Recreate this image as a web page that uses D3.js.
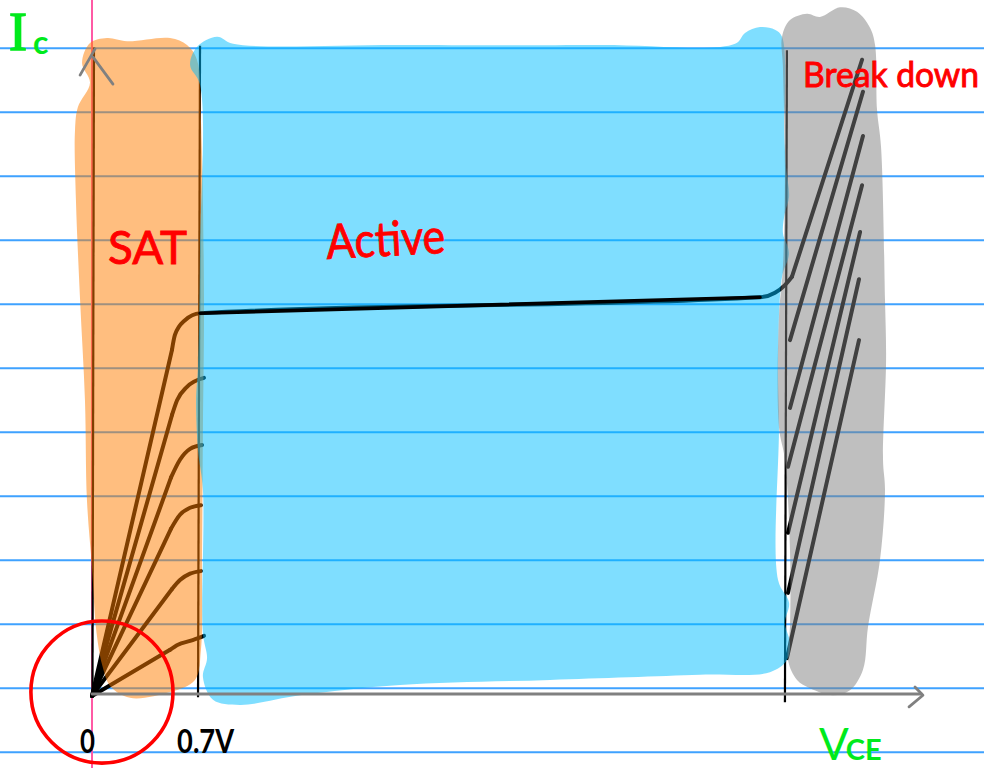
<!DOCTYPE html>
<html>
<head>
<meta charset="utf-8">
<script src="https://cdn.jsdelivr.net/npm/d3@7"></script>
<style>
  html, body { margin: 0; padding: 0; background: #fff; }
  svg { display: block; }
</style>
</head>
<body>
<div id="chart"></div>
<script>
// x = VCE in volts, y = Ic in notebook-line units
const ruleValues = [-0.91, 0.09, 1.09, 2.09, 3.09, 4.09, 5.09, 6.09, 7.09, 8.09, 9.09, 10.09];
const xTickValues = [0, 0.7];
const xTickLabels = ["0", "0.7V"];
const regionNames = ["SAT", "Active", "Break down"];

const satRegion = [
  [-0.065, 9.86], [-0.013, 10.17], [0.098, 10.25], [0.229, 10.20], [0.510, 10.25], [0.621, 10.14],
  [0.686, 9.91], [0.712, 8.97], [0.732, 6.16], [0.725, 4.13], [0.719, 2.09], [0.712, 0.69],
  [0.673, 0.22], [0.510, 0.03], [0.248, -0.06], [0.120, 0.12], [0.070, 0.42], [0.030, 0.95],
  [0, 1.98], [-0.033, 3.03], [-0.046, 4.59], [-0.078, 6.16], [-0.105, 7.72], [-0.111, 8.81],
  [-0.092, 9.17], [-0.013, 9.55]
];
const activeRegion = [
  [0.817, 10.27], [0.922, 10.16], [2.013, 10.14], [3.320, 10.14], [4.203, 10.16], [4.268, 10.33],
  [4.366, 10.42], [4.464, 10.38], [4.510, 10.27], [4.529, 9.28], [4.523, 8.97], [4.536, 8.23],
  [4.556, 7.77], [4.529, 7.52], [4.516, 7.20], [4.556, 6.89], [4.510, 6.52], [4.484, 5.22],
  [4.490, 4.17], [4.484, 1.78], [4.556, 1.42], [4.529, 1.11], [4.562, 0.80], [4.542, 0.53],
  [4.431, 0.34], [3.974, 0.30], [2.993, 0.22], [2.013, 0.14], [1.359, -0.02], [0.967, -0.17],
  [0.791, -0.09], [0.725, 0.27], [0.752, 0.56], [0.725, 0.95], [0.725, 3.19], [0.693, 3.81],
  [0.680, 4.59], [0.693, 5.11], [0.706, 6.94], [0.706, 9.52], [0.641, 9.83], [0.686, 10.11]
];
const breakdownRegion = [
  [4.510, 10.27], [4.562, 10.53], [4.673, 10.63], [4.758, 10.58], [4.889, 10.73], [5.000, 10.66],
  [5.085, 10.41], [5.118, 10.14], [5.131, 9.13], [5.157, 8.55], [5.183, 6.16], [5.190, 5.22],
  [5.170, 3.66], [5.183, 3.19], [5.150, 2.09], [5.072, 1.05], [5.039, 0.38], [4.954, 0.06],
  [4.843, -0.02], [4.693, 0.09], [4.608, 0.22], [4.549, 0.53], [4.562, 1.05], [4.562, 2.25],
  [4.529, 3.66], [4.490, 4.17], [4.490, 5.89], [4.516, 6.67], [4.529, 8.23], [4.516, 9.80]
];

// bend of each Ic curve, top one carries on to the start of breakdown
const curveKnees = [
  [[0.523, 5.38], [0.542, 5.61], [0.608, 5.84], [0.706, 5.95], [4.366, 6.20], [4.464, 6.27], [4.529, 6.39], [4.575, 6.52]],
  [[0.523, 4.36], [0.556, 4.59], [0.621, 4.80], [0.732, 4.94]],
  [[0.516, 3.38], [0.575, 3.66], [0.641, 3.83], [0.719, 3.89]],
  [[0.516, 2.58], [0.575, 2.80], [0.641, 2.91], [0.712, 2.95]],
  [[0.523, 1.64], [0.575, 1.78], [0.641, 1.88], [0.712, 1.92]],
  [[0.510, 0.69], [0.562, 0.77], [0.641, 0.83], [0.732, 0.91]]
];
const curveOrigin = [0, -0.03];
// the flat part was inked after the blue went on
const activeSegment = [[0.706, 5.95], [4.366, 6.20]];
const hatchLines = [
  [[4.575, 6.52], [5.033, 9.91]],
  [[4.562, 5.53], [5.039, 9.41]],
  [[4.562, 4.47], [5.039, 8.72]],
  [[4.549, 3.55], [5.033, 7.95]],
  [[4.549, 2.52], [5.020, 7.22]],
  [[4.549, 1.58], [5.013, 6.48]],
  [[4.542, 0.56], [5.013, 5.53]]
];
const boundaryLines = [
  [[0.013, 10.10], [0.003, 0]],
  [[0.706, 10.13], [0.693, -0.05]],
  [[4.542, 10.06], [4.529, -0.13]]
];
const grayStrokes = [
  [[0, 0], [5.42, 0]],
  [[5.379, 0.11], [5.431, -0.02], [5.340, -0.20]],
  [[-0.078, 9.67], [0.020, 10.08]],
  [[0.007, 9.95], [0.137, 9.53]]
];
const originCircle = { x: 0.065, y: 0.03, r: 1.11 };

const width = 984, height = 768;
const x = d3.scaleLinear().domain([0, 1]).range([92, 245]);
const y = d3.scaleLinear().domain([0, 1]).range([694, 630]);

const svg = d3.select("#chart").append("svg")
  .attr("width", width)
  .attr("height", height);

const line = d3.line().x(d => x(d[0])).y(d => y(d[1]));
const curveLine = d3.line().x(d => x(d[0])).y(d => y(d[1])).curve(d3.curveMonotoneX);
const blob = d3.line().x(d => x(d[0])).y(d => y(d[1])).curve(d3.curveCatmullRomClosed.alpha(0.5));

// notebook paper
svg.append("g").selectAll("line")
  .data(ruleValues)
  .enter().append("line")
  .attr("x1", 0).attr("x2", width)
  .attr("y1", d => y(d)).attr("y2", d => y(d))
  .attr("stroke", "#3fa2ff")
  .attr("stroke-width", 2);
svg.append("line")
  .attr("x1", x(0)).attr("x2", x(0))
  .attr("y1", 0).attr("y2", height)
  .attr("stroke", "#ff5aa5")
  .attr("stroke-width", 2);

// ink goes below the highlighters
svg.append("g").selectAll("path")
  .data(boundaryLines)
  .enter().append("path")
  .attr("d", line)
  .attr("fill", "none")
  .attr("stroke", "#000")
  .attr("stroke-width", 2.2);
svg.append("g").selectAll("path")
  .data(hatchLines.concat(curveKnees.map(k => [curveOrigin, k[0]])))
  .enter().append("path")
  .attr("d", line)
  .attr("fill", "none")
  .attr("stroke", "#000")
  .attr("stroke-width", 4)
  .attr("stroke-linecap", "round");
svg.append("g").selectAll("path")
  .data(curveKnees)
  .enter().append("path")
  .attr("d", curveLine)
  .attr("fill", "none")
  .attr("stroke", "#000")
  .attr("stroke-width", 4)
  .attr("stroke-linecap", "round")
  .attr("stroke-linejoin", "round");

// highlighters
svg.append("g").selectAll("path")
  .data([
    { points: satRegion, color: "#ff7d00" },
    { points: activeRegion, color: "#00bdff" },
    { points: breakdownRegion, color: "#808080" }
  ])
  .enter().append("path")
  .attr("d", d => blob(d.points))
  .attr("fill", d => d.color)
  .attr("fill-opacity", 0.5);

svg.append("path")
  .datum(activeSegment)
  .attr("d", line)
  .attr("fill", "none")
  .attr("stroke", "#000")
  .attr("stroke-width", 3.6)
  .attr("stroke-linecap", "round");

svg.append("g").selectAll("path")
  .data(grayStrokes)
  .enter().append("path")
  .attr("d", line)
  .attr("fill", "none")
  .attr("stroke", "#808080")
  .attr("stroke-width", 2.8)
  .attr("stroke-linecap", "round")
  .attr("stroke-linejoin", "round");

// tick labels
const xAxis = svg.append("g")
  .attr("transform", `translate(0,${y(0)})`)
  .call(d3.axisBottom(x)
    .tickValues(xTickValues)
    .tickFormat((d, i) => xTickLabels[i])
    .tickSize(0)
    .tickPadding(35));
xAxis.select(".domain").remove();
xAxis.selectAll("text")
  .attr("font-family", "Lato")
  .attr("font-weight", 700)
  .attr("font-size", 33)
  .attr("fill", "#000")
  .attr("dy", "0.72em")
  .attr("dx", (d, i) => i === 0 ? -5 : 6)
  .attr("textLength", (d, i) => i === 0 ? 15 : 57)
  .attr("lengthAdjust", "spacingAndGlyphs");

// region names
const regionStyle = [
  { px: 108, py: 264, size: 47, len: 79, rot: 0 },
  { px: 327, py: 259, size: 48, len: 119, rot: -3 },
  { px: 803, py: 87, size: 34, len: 176, rot: 0 }
];
svg.append("g").selectAll("text")
  .data(regionNames)
  .enter().append("text")
  .attr("transform", (d, i) => `translate(${regionStyle[i].px},${regionStyle[i].py}) rotate(${regionStyle[i].rot})`)
  .attr("font-family", "Lato")
  .attr("font-size", (d, i) => regionStyle[i].size)
  .attr("textLength", (d, i) => regionStyle[i].len)
  .attr("lengthAdjust", "spacingAndGlyphs")
  .attr("fill", "#ff0000")
  .attr("stroke", "#ff0000")
  .attr("stroke-width", 0.9)
  .text(d => d);

// axis names
const icLabel = svg.append("text")
  .attr("x", 9).attr("y", 50)
  .attr("fill", "#00ea1c");
icLabel.append("tspan")
  .attr("font-family", "Liberation Serif")
  .attr("font-size", 54)
  .attr("stroke", "#00ea1c")
  .attr("stroke-width", 1.5)
  .text("I");
icLabel.append("tspan")
  .attr("font-family", "Lato")
  .attr("font-weight", 700)
  .attr("font-size", 32)
  .attr("dx", 6)
  .attr("dy", 4)
  .text("c");
const vceLabel = svg.append("text")
  .attr("x", 819).attr("y", 760)
  .attr("fill", "#00ea1c")
  .attr("font-family", "Lato");
vceLabel.append("tspan").attr("font-size", 44).text("V");
vceLabel.append("tspan").attr("font-size", 29).attr("font-weight", 700).attr("dx", -3).text("CE");

// circle round the origin
svg.append("circle")
  .attr("cx", x(originCircle.x))
  .attr("cy", y(originCircle.y))
  .attr("r", y(0) - y(originCircle.r))
  .attr("fill", "none")
  .attr("stroke", "#ff0000")
  .attr("stroke-width", 3.6);
</script>
</body>
</html>
